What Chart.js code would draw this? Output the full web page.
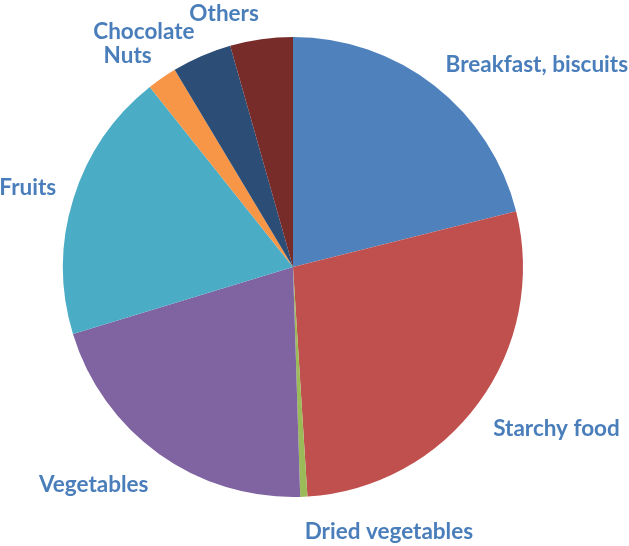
<!DOCTYPE html>
<html>
<head>
<meta charset="utf-8">
<script src="https://cdn.jsdelivr.net/npm/chart.js@4"></script>
<style>
  html, body { margin: 0; padding: 0; background: #fff; }
  #wrap { width: 629px; height: 546px; }
</style>
</head>
<body>
<div id="wrap"><canvas id="pieChart"></canvas></div>
<script>
// categories and shares (%)
const categories = ['Breakfast, biscuits', 'Starchy food', 'Dried vegetables', 'Vegetables', 'Fruits', 'Nuts', 'Chocolate', 'Others'];
const shares = [21.1, 27.9, 0.5, 20.8, 19.0, 2.1, 4.2, 4.4];
const sliceColors = ['#4F81BD', '#C0504D', '#9BBB59', '#8064A2', '#4BACC6', '#F79646', '#2C4D75', '#772C2A'];

// labels outside each slice, like the spreadsheet version
const outsideLabels = {
    id: 'outsideLabels',
    afterDatasetsDraw(chart) {
        const ctx = chart.ctx;
        const arcs = chart.getDatasetMeta(0).data;
        ctx.save();
        ctx.font = 'bold 22.5px Lato, "Liberation Sans", sans-serif';
        ctx.fillStyle = '#4A7EBB';
        ctx.textBaseline = 'middle';
        arcs.forEach((arc, i) => {
            const mid = (arc.startAngle + arc.endAngle) / 2;
            const px = arc.x + Math.cos(mid) * (arc.outerRadius + 18);
            const py = arc.y + Math.sin(mid) * (arc.outerRadius + 22);
            const text = categories[i];
            const w = ctx.measureText(text).width;
            const x = Math.cos(mid) >= 0 ? px : px - w;
            // upper labels sit just above the point, lower ones hang below it
            const y = Math.sin(mid) < 0 ? py - 4 : py + 13;
            ctx.fillText(text, x, y);
        });
        ctx.restore();
    }
};

document.addEventListener('DOMContentLoaded', () => {
    const ctx = document.getElementById('pieChart').getContext('2d');
    new Chart(ctx, {
        type: 'pie',
        data: {
            labels: categories,
            datasets: [{
                data: shares,
                backgroundColor: sliceColors,
                borderWidth: 0
            }]
        },
        options: {
            responsive: true,
            maintainAspectRatio: false,
            animation: false,
            layout: { padding: { top: 37, bottom: 49, left: 63, right: 106 } },
            plugins: {
                legend: { display: false },
                tooltip: { enabled: false }
            }
        },
        plugins: [outsideLabels]
    });
});
</script>
</body>
</html>
